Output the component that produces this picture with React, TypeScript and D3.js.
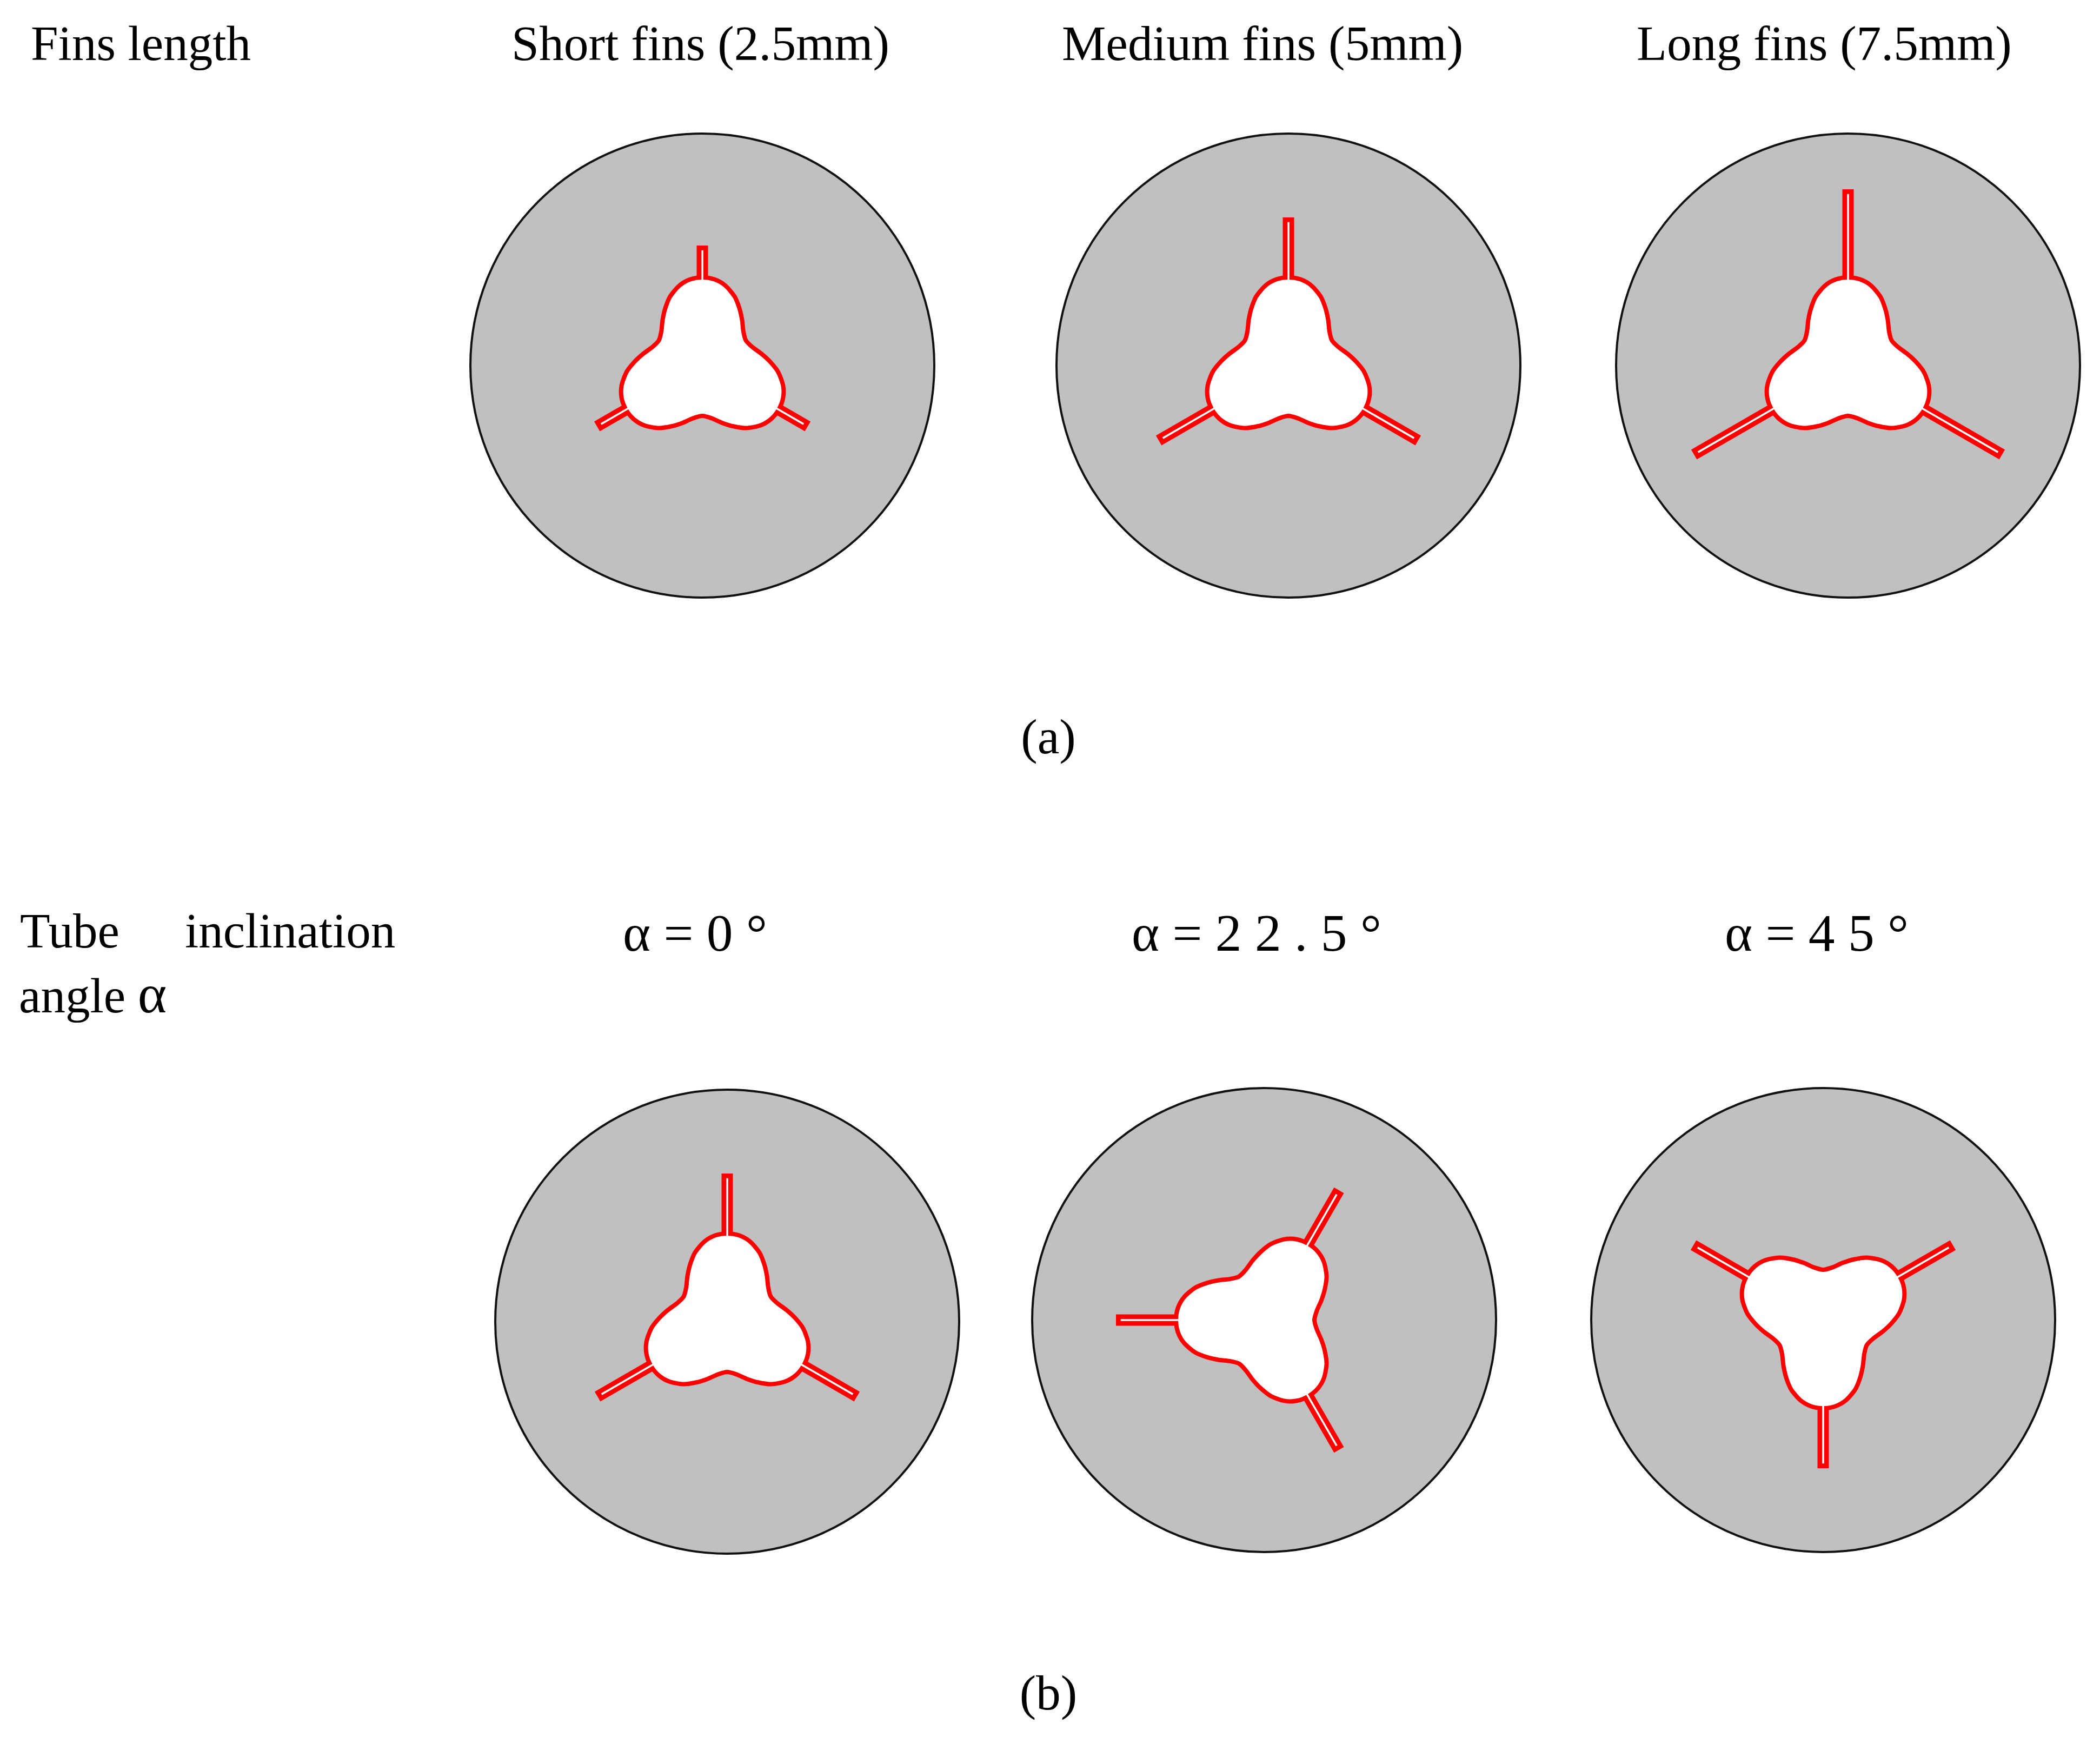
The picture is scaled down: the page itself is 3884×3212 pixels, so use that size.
import * as d3 from 'd3'

const WIDTH = 3884
const HEIGHT = 3212

// fin lengths in mm, row (a)
const finLengths = [2.5, 5, 7.5]
const finLabels = ['Short fins (2.5mm)', 'Medium fins (5mm)', 'Long fins (7.5mm)']

// tube inclination, row (b), all with medium fins
const inclinations = [0, 22.5, 45]
const inclinationLabels = ['α = 0 °', 'α = 2 2 . 5 °', 'α = 4 5 °']
const inclinationRotation = [0, -90, 180]
const inclinationFin = 5

const profileAngles = [0, 8, 16, 25, 33, 41, 50, 60]
const profileRadii = [163, 161, 154, 141, 126, 112, 99, 93]
const lobeAngles = [0, 120, 240]
const lobeFinExtra = [2, 5, 5]

// layout
const row1Y = 676
const row2Y = [2444, 2441, 2441]
const row1X = [1299, 2383, 3418]
const row2X = [1345, 2338, 3372]
const labelRow1X = [946, 1964, 3027]
const labelRow2X = [1152, 2093, 3190]
const diskR = 429
const finOuter = 21
const finWall = 8.75

const finScale = d3.scaleLinear().domain([0, 7.5]).range([168, 324])

// one full closed outline, mirrored around every lobe
const outline: [number, number][] = []
lobeAngles.forEach(lobe => {
  for (let i = profileAngles.length - 1; i > 0; i--) outline.push([lobe - profileAngles[i], profileRadii[i]])
  for (let i = 0; i < profileAngles.length - 1; i++) outline.push([lobe + profileAngles[i], profileRadii[i]])
})

const tubePath = d3.lineRadial<[number, number]>()
  .angle(d => (d[0] * Math.PI) / 180)
  .radius(d => d[1])
  .curve(d3.curveCardinalClosed.tension(0.2))(outline) as string

function Tube({ x, y, rotation, fin }: { x: number; y: number; rotation: number; fin: number }) {
  const tip = finScale(fin)
  const inner = finOuter - 2 * finWall
  return (
    <g transform={`translate(${x},${y})`}>
      <circle r={diskR} fill="#c0c0c0" stroke="#111" strokeWidth={4} />
      <g transform={`rotate(${rotation})`}>
        {lobeAngles.map((a, i) => (
          <rect key={a} transform={`rotate(${a})`} x={-finOuter / 2} y={-tip - lobeFinExtra[i]} width={finOuter} height={tip + lobeFinExtra[i] - 140} fill="#ff0000" />
        ))}
        <path d={tubePath} fill="#fff" stroke="#ff0000" strokeWidth={8} />
        {lobeAngles.map((a, i) => (
          <rect key={a} transform={`rotate(${a})`} x={-inner / 2} y={-tip - lobeFinExtra[i] + finWall} width={inner} height={tip + lobeFinExtra[i] - finWall - 150} fill="#fff" />
        ))}
      </g>
    </g>
  )
}

export default function App() {
  const font = { fontFamily: '"Liberation Serif", serif', fontSize: 91.5, fill: '#000' }
  return (
    <svg width={WIDTH} height={HEIGHT} viewBox={`0 0 ${WIDTH} ${HEIGHT}`} style={{ position: 'absolute', left: 0, top: 0, background: '#fff' }}>
      {finLengths.map((f, i) => (
        <Tube key={f} x={row1X[i]} y={row1Y} rotation={0} fin={f} />
      ))}
      {inclinations.map((a, i) => (
        <Tube key={a} x={row2X[i]} y={row2Y[i]} rotation={inclinationRotation[i]} fin={inclinationFin} />
      ))}

      <g {...font}>
        <text x={57} y={111} fontSize={91}>Fins length</text>
        {finLabels.map((t, i) => (
          <text key={t} x={labelRow1X[i]} y={111}>{t}</text>
        ))}
        <text x={1939} y={1393} textAnchor="middle">(a)</text>

        <text x={37} y={1752} fontSize={91}>Tube</text>
        <text x={342} y={1752} fontSize={91}>inclination</text>
        <text x={35} y={1872} fontSize={91}>angle <tspan fontSize={102}>α</tspan></text>
        {inclinationLabels.map((t, i) => (
          <text key={t} x={labelRow2X[i]} y={1758} fontSize={97.5}>{t}</text>
        ))}
        <text x={1939} y={3161} textAnchor="middle">(b)</text>
      </g>
    </svg>
  )
}
